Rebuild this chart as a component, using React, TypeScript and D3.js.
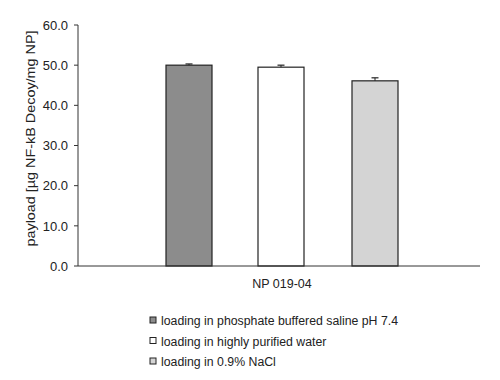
import React from "react";
import * as d3 from "d3";

const categories = ["NP 019-04"];
const seriesNames = [
  "loading in phosphate buffered saline pH 7.4",
  "loading in highly purified water",
  "loading in 0.9% NaCl",
];
const seriesValues = [50.0, 49.5, 46.1];
const seriesErrors = [0.3, 0.5, 0.75];
const seriesColors = ["#8c8c8c", "#ffffff", "#d4d4d4"];
const yTicks = [0, 10, 20, 30, 40, 50, 60];

export default function App() {
  const W = 500, H = 380;
  const left = 78, right = 480, top = 25, bottom = 266;
  const y = d3.scaleLinear().domain([0, 60]).range([bottom, top]);
  const x0 = d3.scaleBand().domain(categories).range([left, right]);
  const bw = 46;
  const centers = [189, 281, 375];
  const font = "Liberation Sans, Arial, sans-serif";
  return (
    <svg width={W} height={H} style={{ position: "absolute", left: 0, top: 0, background: "#fff" }} fontFamily={font}>
      {seriesValues.map((v, i) => {
        const cx = centers[i];
        return (
          <g key={i}>
            <rect x={cx - bw / 2} y={y(v)} width={bw} height={bottom - y(v)} fill={seriesColors[i]} stroke="#222" strokeWidth={1.2} />
            <line x1={cx} x2={cx} y1={y(v)} y2={y(v + seriesErrors[i])} stroke="#222" strokeWidth={1} />
            <line x1={cx - 3.5} x2={cx + 3.5} y1={y(v + seriesErrors[i])} y2={y(v + seriesErrors[i])} stroke="#222" strokeWidth={1.2} />
          </g>
        );
      })}
      <line x1={left} x2={left} y1={top} y2={bottom} stroke="#333" strokeWidth={1} />
      <line x1={left} x2={right} y1={bottom} y2={bottom} stroke="#333" strokeWidth={1} />
      {yTicks.map((t) => (
        <g key={t}>
          <line x1={left - 4} x2={left} y1={y(t)} y2={y(t)} stroke="#333" />
          <text x={68} y={y(t)} dy="0.36em" textAnchor="end" fontSize={13} fill="#222">{t.toFixed(1)}</text>
        </g>
      ))}
      <text transform={`translate(34.5,138.5) rotate(-90)`} textAnchor="middle" fontSize={12.5} fill="#222" textLength={216} lengthAdjust="spacingAndGlyphs">
        payload [µg NF-kB Decoy/mg NP]
      </text>
      {categories.map((c) => (
        <text key={c} x={(x0(c) ?? 0) + x0.bandwidth() / 2 + 3} y={288} textAnchor="middle" fontSize={12.5} fill="#222">{c}</text>
      ))}
      {seriesNames.map((n, i) => (
        <g key={n} transform={`translate(150,${321 + i * 20.5})`}>
          <rect x={0} y={-4} width={6} height={6} fill={seriesColors[i]} stroke="#222" strokeWidth={1} />
          <text x={11} y={0} dy="0.35em" fontSize={12.3} fill="#222">{n}</text>
        </g>
      ))}
    </svg>
  );
}
